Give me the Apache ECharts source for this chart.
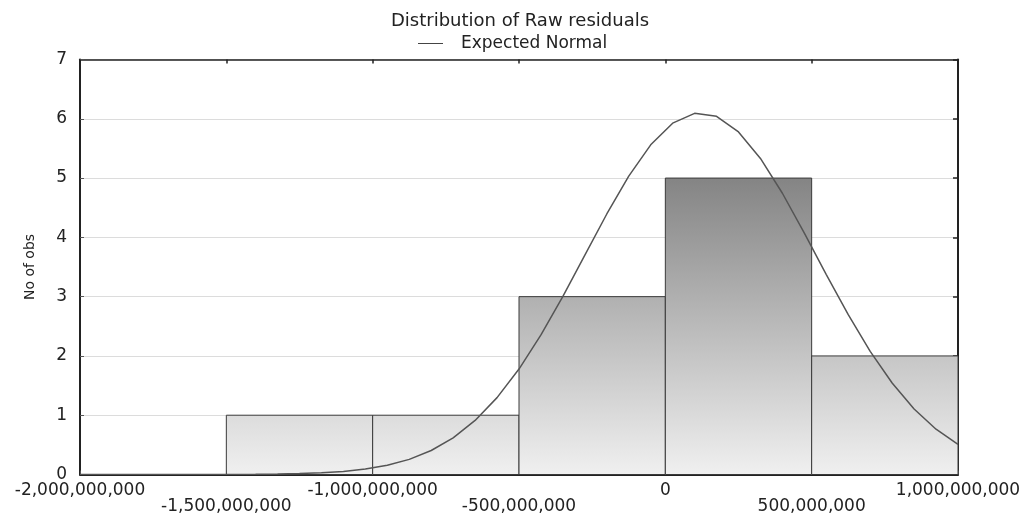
<!DOCTYPE html>
<html>
<head>
<meta charset="utf-8">
<script src="https://cdn.jsdelivr.net/npm/echarts@6/dist/echarts.min.js"></script>
<style>
html,body{margin:0;padding:0;background:#fff;}
#chart{width:1030px;height:515px;}
</style>
</head>
<body>
<div id="chart"></div>
<script>
// ---- data ----
var titleText = 'Distribution of Raw residuals';
var legendName = 'Expected Normal';
var yAxisName = 'No of obs';
var binStart = [-1.5e9, -1.0e9, -0.5e9, 0, 0.5e9];
var binEnd   = [-1.0e9, -0.5e9, 0, 0.5e9, 1.0e9];
var counts   = [1, 1, 3, 5, 2];
var normalX = [-2.0e9,-1.925e9,-1.85e9,-1.775e9,-1.7e9,-1.625e9,-1.55e9,-1.475e9,-1.4e9,-1.325e9,
  -1.25e9,-1.175e9,-1.1e9,-1.025e9,-0.95e9,-0.875e9,-0.8e9,-0.725e9,-0.65e9,-0.575e9,
  -0.5e9,-0.425e9,-0.35e9,-0.275e9,-0.2e9,-0.125e9,-0.05e9,0.025e9,0.1e9,0.175e9,
  0.25e9,0.325e9,0.4e9,0.475e9,0.55e9,0.625e9,0.7e9,0.775e9,0.85e9,0.925e9,1.0e9];
var normalY = [0,0,0,0,0,0,0.001,0.002,0.004,0.008,
  0.015,0.028,0.052,0.091,0.156,0.255,0.405,0.619,0.912,1.297,
  1.779,2.355,3.005,3.70,4.394,5.033,5.561,5.926,6.092,6.041,
  5.778,5.331,4.744,4.072,3.372,2.695,2.076,1.543,1.105,0.764,0.51];
var xMin = -2.0e9, xMax = 1.0e9, xStep = 0.5e9;
var yMin = 0, yMax = 7, yStep = 1;

// ---- build ----
var FONT = 'DejaVu Sans';
var barData = binStart.map(function(s, i){ return [s, binEnd[i], counts[i]]; });
var lineData = normalX.map(function(x, i){ return [x, normalY[i]]; });

function topGray(v){
  var g = Math.max(0, Math.min(255, Math.round(242 - 22 * v)));
  return 'rgb(' + g + ',' + g + ',' + g + ')';
}

var chart = echarts.init(document.getElementById('chart'), null, {renderer:'canvas'});
var option = {
  animation: false,
  backgroundColor: '#ffffff',
  title: {
    text: titleText,
    left: 520, top: 12, textAlign: 'center', padding: 0,
    textStyle: {fontFamily: FONT, fontSize: 18, fontWeight: 'normal', color: '#222'}
  },
  legend: {
    left: 418, top: 35, padding: 0,
    itemWidth: 25, itemHeight: 14,
    data: [{name: legendName, icon: 'path://M0,6.5 L25,6.5 L25,7.5 L0,7.5 Z'}],
    itemStyle: {color: '#444'},
    textStyle: {fontFamily: FONT, fontSize: 17, color: '#222', padding: [0,0,0,13]}
  },
  grid: {left: 80, right: 72, top: 59.5, bottom: 39, containLabel: false},
  xAxis: [{
    type: 'value', position: 'bottom', min: xMin, max: xMax, interval: xStep,
    axisLine: {show: true, onZero: false, lineStyle: {color: '#222', width: 2}},
    axisTick: {show: true, inside: true, length: 4, lineStyle: {color: '#555', width: 1}},
    splitLine: {show: false},
    axisLabel: {
      show: true, margin: 8, lineHeight: 16, showMinLabel: true, showMaxLabel: true,
      fontFamily: FONT, fontSize: 17, color: '#222',
      formatter: function(v){
        var idx = Math.round((v - xMin) / xStep);
        var s = Math.round(v).toLocaleString('en-US');
        return (idx % 2 === 1) ? ('\n' + s) : s;
      }
    }
  }, {
    type: 'value', position: 'top', min: xMin, max: xMax, interval: xStep,
    axisLine: {show: true, onZero: false, lineStyle: {color: '#222', width: 1.5}},
    axisTick: {show: true, inside: true, length: 4, lineStyle: {color: '#222', width: 1.5}},
    axisLabel: {show: false},
    splitLine: {show: false}
  }],
  yAxis: [{
    type: 'value', position: 'left', min: yMin, max: yMax, interval: yStep,
    name: yAxisName, nameLocation: 'middle', nameGap: 43, nameRotate: 90,
    nameTextStyle: {fontFamily: FONT, fontSize: 14, color: '#222'},
    axisLine: {show: true, onZero: false, lineStyle: {color: '#222', width: 2}},
    axisTick: {show: true, inside: true, length: 4, lineStyle: {color: '#555', width: 1}},
    axisLabel: {show: true, margin: 13, fontFamily: FONT, fontSize: 17, color: '#222'},
    splitLine: {show: true, lineStyle: {color: '#dcdcdc', width: 1}}
  }, {
    type: 'value', position: 'right', min: yMin, max: yMax, interval: yStep,
    axisLine: {show: true, onZero: false, lineStyle: {color: '#222', width: 2}},
    axisTick: {show: true, inside: true, length: 5, lineStyle: {color: '#222', width: 1.5}},
    axisLabel: {show: false},
    splitLine: {show: false}
  }],
  series: [{
    type: 'custom', name: 'hist', xAxisIndex: 0, yAxisIndex: 0, z: 2,
    data: barData,
    encode: {x: [0, 1], y: 2},
    renderItem: function(params, api){
      var x0 = api.value(0), x1 = api.value(1), v = api.value(2);
      var p0 = api.coord([x0, v]);
      var p1 = api.coord([x1, 0]);
      return {
        type: 'rect',
        shape: {x: p0[0], y: p0[1], width: p1[0] - p0[0], height: p1[1] - p0[1]},
        style: {
          fill: new echarts.graphic.LinearGradient(0, 0, 0, 1, [
            {offset: 0, color: topGray(v)},
            {offset: 1, color: '#f0f0f0'}
          ]),
          stroke: '#3a3a3a', lineWidth: 1
        }
      };
    }
  }, {
    type: 'line', name: legendName, xAxisIndex: 0, yAxisIndex: 0, z: 3,
    data: lineData, symbol: 'none', smooth: false, clip: true,
    lineStyle: {color: '#555', width: 1.5},
    itemStyle: {color: '#444'}
  }]
};
chart.setOption(option);
</script>
</body>
</html>
